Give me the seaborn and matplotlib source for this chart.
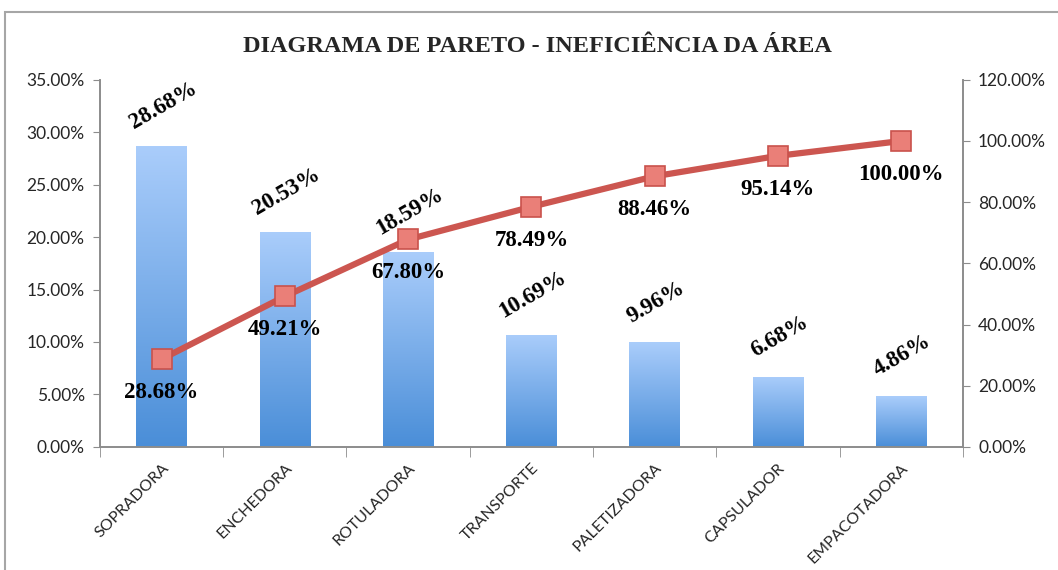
# Pareto chart - ineficiencia da area
import numpy as np
import matplotlib
matplotlib.use("Agg")
import matplotlib.pyplot as plt
import matplotlib.patches as mpatches
from matplotlib.colors import LinearSegmentedColormap
from matplotlib.ticker import FixedLocator, FuncFormatter
import seaborn as sns

# Data
categories = ["SOPRADORA", "ENCHEDORA", "ROTULADORA", "TRANSPORTE",
              "PALETIZADORA", "CAPSULADOR", "EMPACOTADORA"]
share = [28.68, 20.53, 18.59, 10.69, 9.96, 6.68, 4.86]
cumulative = [28.68, 49.21, 67.80, 78.49, 88.46, 95.14, 100.00]
left_ticks = [0, 5, 10, 15, 20, 25, 30, 35]
right_ticks = [0, 20, 40, 60, 80, 100, 120]

sns.set_style("white")
plt.rcParams["font.family"] = ["Lato", "DejaVu Sans"]

fig = plt.figure(figsize=(10.58, 5.70), dpi=100)
ax = fig.add_axes([0.0945, 0.216, 0.8155, 0.644])

positions = list(range(len(categories)))
sns.barplot(x=positions, y=share, ax=ax, width=0.41, color="#7fb0ec",
            native_scale=True, zorder=2)

# gradient fill on each bar
grad = LinearSegmentedColormap.from_list("g", ["#4a8ed8", "#aacdfb"])
for p in ax.patches:
    x0, y0 = p.get_x(), p.get_y()
    w, h = p.get_width(), p.get_height()
    img = ax.imshow(np.linspace(0, 1, 256).reshape(-1, 1), cmap=grad,
                    origin="lower", aspect="auto",
                    extent=[x0, x0 + w, y0, y0 + h], zorder=2)
    img.set_clip_path(p)
    p.set_facecolor("none")
    p.set_edgecolor("none")

ax.set_xlim(-0.5, len(categories) - 0.5)
ax.set_ylim(0, 35)
ax.yaxis.set_major_locator(FixedLocator(left_ticks))
ax.yaxis.set_major_formatter(FuncFormatter(lambda v, _: f"{v:.2f}%"))
ax.set_xticks(positions)
ax.set_xticklabels(categories, rotation=45, ha="right", rotation_mode="anchor",
                   fontsize=11.5)
ax.xaxis.set_minor_locator(FixedLocator(np.arange(-0.5, len(categories), 1)))
ax.tick_params(axis="x", which="major", length=0, pad=10)
ax.tick_params(axis="x", which="minor", length=7, color="#8c8c8c", bottom=True)
ax.tick_params(axis="y", length=5, color="#8c8c8c", left=True, labelsize=12.5, pad=6)

# bar labels
for xi, v in zip(positions, share):
    ax.annotate(f"{v:.2f}%", (xi, v), xytext=(1, 29), textcoords="offset points",
                rotation=30, ha="center", va="center", rotation_mode="anchor",
                family="Liberation Serif", fontweight="bold",
                fontsize=16.5, color="black")

# cumulative line on secondary axis
ax2 = ax.twinx()
sns.lineplot(x=positions, y=cumulative, ax=ax2, color="#cc5650", linewidth=4.5,
             marker="s", markersize=14, markerfacecolor="#ea7f78",
             markeredgecolor="#c9524c", markeredgewidth=1.2, zorder=3)
ax2.set_ylim(0, 120)
ax2.yaxis.set_major_locator(FixedLocator(right_ticks))
ax2.yaxis.set_major_formatter(FuncFormatter(lambda v, _: f"{v:.2f}%"))
ax2.tick_params(axis="y", length=5, color="#8c8c8c", right=True, labelsize=12.5, pad=6)

for xi, v in zip(positions, cumulative):
    ax2.annotate(f"{v:.2f}%", (xi, v), xytext=(0, -24), textcoords="offset points",
                 ha="center", va="center", family="Liberation Serif",
                 fontweight="bold", fontsize=16.5, color="black")

for a in (ax, ax2):
    a.spines["top"].set_visible(False)
    for side in ("left", "right", "bottom"):
        a.spines[side].set_color("#8c8c8c")
        a.spines[side].set_linewidth(1.2)

fig.text(0.508, 1 - 46 / 570, "DIAGRAMA DE PARETO - INEFICIÊNCIA DA ÁREA",
         ha="center", va="center", family="Liberation Serif",
         fontweight="bold", fontsize=17.5)

# outer chart frame (cut by the picture edges)
fig.add_artist(mpatches.Rectangle((5 / 1058, -0.2), 1.2, 1.2 - 12 / 570,
                                  transform=fig.transFigure, fill=False,
                                  edgecolor="#a6a6a6", linewidth=1.5))

fig.savefig("out.png", dpi=100)
